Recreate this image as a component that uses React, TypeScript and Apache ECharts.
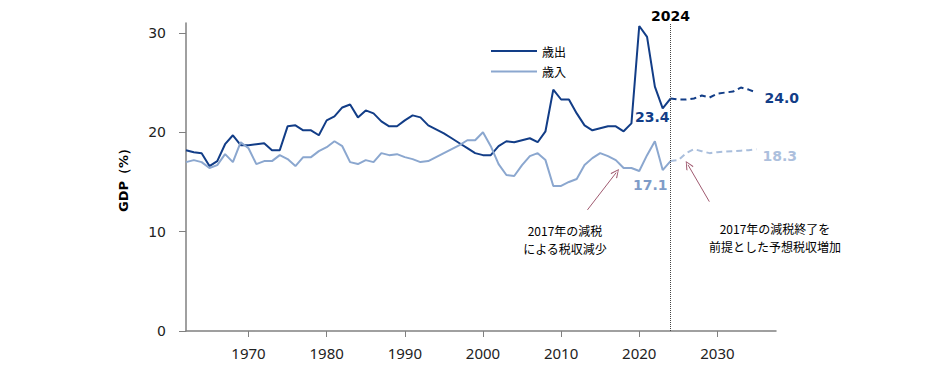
import React, { useEffect, useRef } from "react";
import * as echarts from "echarts";

const actualYears = Array.from({ length: 63 }, (_, i) => 1962 + i);
const outlays = [
  18.2, 18.0, 17.9, 16.6, 17.1, 18.8, 19.7, 18.7, 18.7, 18.8,
  18.9, 18.2, 18.2, 20.6, 20.7, 20.2, 20.2, 19.7, 21.2, 21.6,
  22.5, 22.8, 21.5, 22.2, 21.9, 21.1, 20.6, 20.6, 21.2, 21.7,
  21.5, 20.7, 20.3, 19.9, 19.4, 18.9, 18.4, 17.9, 17.7, 17.7,
  18.6, 19.1, 19.0, 19.2, 19.4, 19.0, 20.1, 24.3, 23.3, 23.3,
  21.9, 20.7, 20.2, 20.4, 20.6, 20.6, 20.1, 20.9, 30.7, 29.6,
  24.6, 22.4, 23.4,
];
const revenues = [
  17.0, 17.2, 17.0, 16.4, 16.7, 17.8, 17.0, 19.0, 18.4, 16.8,
  17.1, 17.1, 17.7, 17.3, 16.6, 17.5, 17.5, 18.1, 18.5, 19.1,
  18.6, 17.0, 16.8, 17.2, 17.0, 17.9, 17.7, 17.8, 17.5, 17.3,
  17.0, 17.1, 17.5, 17.9, 18.3, 18.7, 19.2, 19.2, 20.0, 18.6,
  16.8, 15.7, 15.6, 16.7, 17.6, 17.9, 17.2, 14.6, 14.6, 15.0,
  15.3, 16.7, 17.4, 17.9, 17.6, 17.2, 16.4, 16.4, 16.1, 17.7,
  19.1, 16.2, 17.1,
];
const projYears = [2024, 2025, 2026, 2027, 2028, 2029, 2030, 2031, 2032, 2033, 2034, 2035];
const outlaysProj = [23.4, 23.3, 23.3, 23.4, 23.7, 23.5, 23.9, 24.0, 24.1, 24.5, 24.3, 24.0];
const revenuesProj = [17.1, 17.2, 17.9, 18.3, 18.1, 17.9, 18.0, 18.05, 18.1, 18.15, 18.2, 18.3];
const xTicks = [1970, 1980, 1990, 2000, 2010, 2020, 2030];
const yTicks = [0, 10, 20, 30];
const seriesNames = ["歳出", "歳入"];
const dividerYear = 2024;
const note1 = ["2017年の減税", "による税収減少"];
const note2 = ["2017年の減税終了を", "前提とした予想税収増加"];
const arrow1 = [[2013.37, 12.19], [2017.05, 15.94]];
const arrow2 = [[2028.97, 13.02], [2026.24, 16.72]];

const DARK = "#123d87";
const LIGHT = "#8ba7cf";
const LIGHT_PROJ = "#a9bedc";
const ARROW = "#a05a70";
const chevron = "path://M5,0 L10,9 L9,10 L5,2 L1,10 L0,9 Z";

function pairs(xs: number[], ys: number[], label?: any) {
  return xs.map((x, i) => {
    const item: any = { value: [x, ys[i]] };
    if (label && i === xs.length - 1) item.label = label;
    return item;
  });
}

function noteText(lines: string[], cx: number, top: number) {
  return lines.map((t, i) => ({
    type: "text",
    x: cx,
    y: top + i * 17.6,
    style: {
      text: t,
      textAlign: "center",
      textVerticalAlign: "top",
      fontFamily: "Noto Sans CJK JP",
      fontSize: 12,
      lineHeight: 13,
      fill: "#000",
    },
  }));
}

export default function App() {
  const ref = useRef<HTMLDivElement>(null);
  useEffect(() => {
    const chart = echarts.init(ref.current!, null, { renderer: "svg" });
    const valFont = { fontFamily: "DejaVu Sans", fontWeight: "bold", fontSize: 14 };
    chart.setOption({
      animation: false,
      grid: { left: 186, right: 157, top: 23, bottom: 36, containLabel: false, outerBoundsMode: "none" },
      legend: {
        data: seriesNames.map((n) => ({ name: n, icon: "rect" })),
        orient: "vertical",
        left: 486,
        top: 39,
        itemWidth: 46,
        itemHeight: 2,
        itemGap: 6.6,
        textStyle: { fontFamily: "Noto Sans CJK JP", fontSize: 12, lineHeight: 14, color: "#000" },
      },
      xAxis: {
        type: "value",
        min: 1962,
        max: 2037.5,
        splitLine: { show: false },
        axisLine: { show: true, lineStyle: { color: "#808080", width: 1.5 } },
        axisTick: { show: true, length: 6, customValues: xTicks, lineStyle: { color: "#808080" } },
        axisLabel: {
          customValues: xTicks,
          formatter: (v: number) => String(v),
          margin: 14,
          fontFamily: "Noto Sans",
          fontSize: 15,
          color: "#222",
        },
      },
      yAxis: {
        type: "value",
        min: 0,
        max: 31,
        name: "GDP（%）",
        nameLocation: "middle",
        nameRotate: 90,
        nameGap: 56,
        nameTextStyle: { fontFamily: "DejaVu Sans", fontWeight: "bold", fontSize: 13, color: "#000" },
        splitLine: { show: false },
        axisLine: { show: true, lineStyle: { color: "#808080", width: 1.5 } },
        axisTick: { show: true, length: 7, customValues: yTicks, lineStyle: { color: "#808080" } },
        axisLabel: {
          customValues: yTicks,
          formatter: (v: number) => String(v),
          margin: 20,
          fontFamily: "DejaVu Sans",
          fontSize: 14,
          color: "#222",
        },
      },
      series: [
        {
          name: seriesNames[0],
          type: "line",
          symbol: "circle",
          symbolSize: 0,
          lineStyle: { color: DARK, width: 2 },
          itemStyle: { color: DARK },
          data: pairs(actualYears, outlays, {
            show: true,
            position: "left",
            offset: [4, 18],
            formatter: (p: any) => p.value[1].toFixed(1),
            color: DARK,
            ...valFont,
          }),
          markLine: {
            silent: true,
            symbol: ["none", "none"],
            lineStyle: { type: "dotted", color: "#444", width: 1 },
            label: {
              show: true,
              position: "end",
              distance: 0,
              formatter: String(dividerYear),
              color: "#000",
              fontFamily: "DejaVu Sans",
              fontWeight: "bold",
              fontSize: 14,
            },
            data: [{ xAxis: dividerYear }],
          },
        },
        {
          name: seriesNames[1],
          type: "line",
          symbol: "circle",
          symbolSize: 0,
          lineStyle: { color: LIGHT, width: 2 },
          itemStyle: { color: LIGHT },
          data: pairs(actualYears, revenues, {
            show: true,
            position: "left",
            offset: [2, 24],
            formatter: (p: any) => p.value[1].toFixed(1),
            color: "#7f9cc8",
            ...valFont,
          }),
          markLine: {
            silent: true,
            symbol: ["none", chevron],
            symbolSize: [8, 9],
            lineStyle: { type: "solid", color: ARROW, width: 1 },
            itemStyle: { color: ARROW },
            label: { show: false },
            data: [
              [{ coord: arrow1[0] }, { coord: arrow1[1] }],
              [{ coord: arrow2[0] }, { coord: arrow2[1] }],
            ],
          },
        },
        {
          name: "歳出（予測）",
          type: "line",
          symbol: "circle",
          symbolSize: 0,
          lineStyle: { color: DARK, width: 2, type: [6, 4] },
          itemStyle: { color: DARK },
          data: pairs(projYears, outlaysProj, {
            show: true,
            position: "right",
            offset: [3, 5],
            formatter: (p: any) => p.value[1].toFixed(1),
            color: DARK,
            ...valFont,
          }),
        },
        {
          name: "歳入（予測）",
          type: "line",
          symbol: "circle",
          symbolSize: 0,
          lineStyle: { color: LIGHT_PROJ, width: 2, type: [6, 4] },
          itemStyle: { color: LIGHT_PROJ },
          data: pairs(projYears, revenuesProj, {
            show: true,
            position: "right",
            offset: [1, 7],
            formatter: (p: any) => p.value[1].toFixed(1),
            color: "#adc0dd",
            ...valFont,
          }),
        },
      ],
      graphic: [...noteText(note1, 565, 224), ...noteText(note2, 775, 222)],
    });
    return () => chart.dispose();
  }, []);
  return (
    <div
      ref={ref}
      style={{ position: "absolute", left: 0, top: 0, width: 933, height: 367 }}
    />
  );
}
